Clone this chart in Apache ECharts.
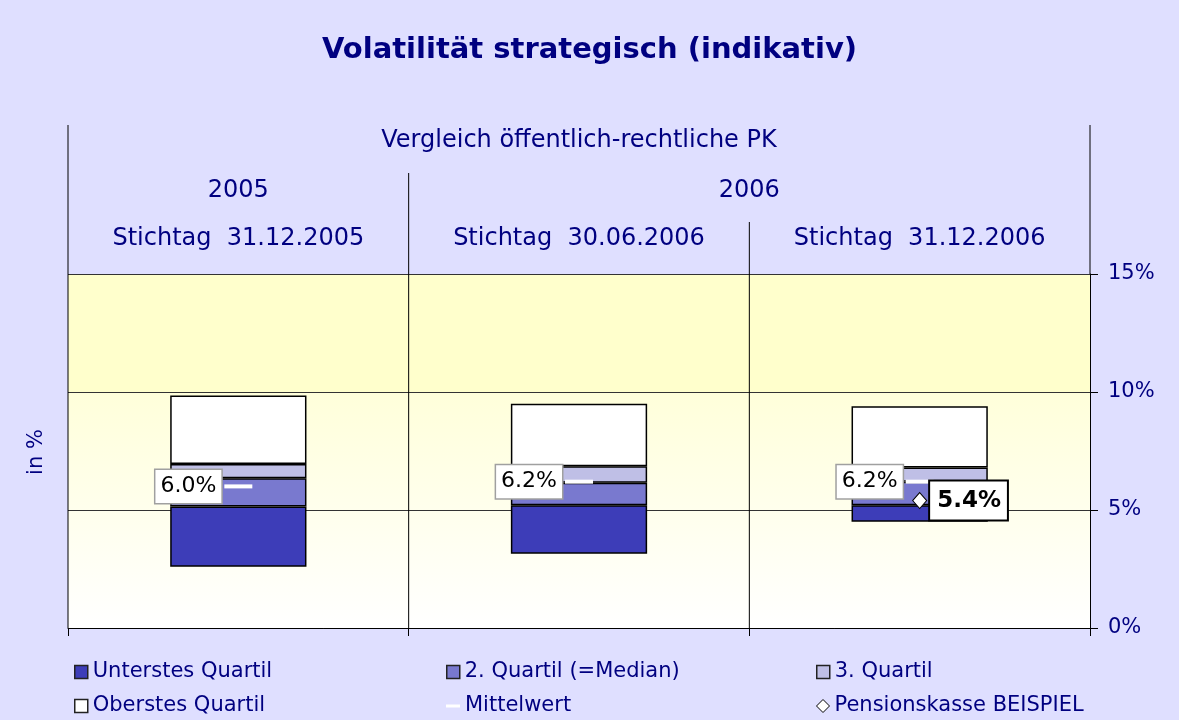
<!DOCTYPE html>
<html><head><meta charset="utf-8">
<script src="https://cdn.jsdelivr.net/npm/echarts@6/dist/echarts.min.js"></script>
<style>html,body{margin:0;padding:0;background:#DFDFFF}#c{width:1179px;height:720px}</style>
</head><body><div id="c"></div><script>
// ---- data ----
const categories = ['Stichtag  31.12.2005', 'Stichtag  30.06.2006', 'Stichtag  31.12.2006'];
const yearLabels = ['2005', '2006'];
const headerTitle = 'Vergleich öffentlich-rechtliche PK';
const lowest  = [2.6, 3.15, 4.5];   // bottom of lowest quartile
const q1      = [5.15, 5.2, 5.2];   // top of lowest quartile
const median  = [6.35, 6.15, 6.2];  // top of 2nd quartile
const q3      = [6.95, 6.85, 6.8];  // top of 3rd quartile
const highest = [9.85, 9.5, 9.4];   // top of highest quartile
const meanVal = [6.0, 6.2, 6.2];
const pkVal   = [null, null, 5.4];
const yTicks  = [0, 5, 10, 15];
const seriesNames = ['Unterstes Quartil', '2. Quartil (=Median)', '3. Quartil', 'Oberstes Quartil', 'Mittelwert', 'Pensionskasse BEISPIEL'];

const NAVY = '#000080';
const FONT = 'DejaVu Sans';
const colQ1 = '#3D3DB8', colQ2 = '#7979CF', colQ3 = '#BFBFE6', colQ4 = '#FFFFFF';

const diff = (a, b) => a.map((v, i) => +(v - b[i]).toFixed(4));

const chart = echarts.init(document.getElementById('c'), null, {renderer: 'canvas'});

const barStyle = c => ({color: c, borderColor: '#000', borderWidth: 1.5});

const legendBase = (name, left, top, extra) => Object.assign({
  selectedMode: false, left: left, top: top, padding: 0,
  itemWidth: 13, itemHeight: 13,
  textStyle: {color: NAVY, fontSize: 21, fontFamily: FONT, lineHeight: 24},
  data: [name]
}, extra || {});

const option = {
  backgroundColor: '#DFDFFF',
  animation: false,
  title: {
    text: 'Volatilität strategisch (indikativ)', left: 'center', top: 36, padding: 0,
    textStyle: {color: NAVY, fontSize: 29, fontWeight: 'bold', fontFamily: FONT}
  },
  grid: {
    left: 68, right: 89, top: 274, bottom: 92, show: true, borderWidth: 0,
    backgroundColor: new echarts.graphic.LinearGradient(0, 0, 0, 1, [
      {offset: 0, color: '#FFFFCC'}, {offset: 0.3333, color: '#FFFFCC'},
      {offset: 0.3336, color: '#FFFFDA'}, {offset: 1, color: '#FFFFFF'}
    ])
  },
  legend: [
    legendBase(seriesNames[0], 74, 660, {data: [{name: seriesNames[0], icon: 'rect', itemStyle: {color: colQ1, borderColor: '#222', borderWidth: 1.5}}]}),
    legendBase(seriesNames[3], 74, 694, {data: [{name: seriesNames[3], icon: 'rect', itemStyle: {color: colQ4, borderColor: '#222', borderWidth: 1.5}}]}),
    legendBase(seriesNames[1], 446, 660, {data: [{name: seriesNames[1], icon: 'rect', itemStyle: {color: colQ2, borderColor: '#222', borderWidth: 1.5}}]}),
    legendBase(seriesNames[4], 446, 694, {itemWidth: 14, itemHeight: 3, data: [{name: seriesNames[4], icon: 'rect', itemStyle: {color: '#FFFFFF', borderWidth: 0, opacity: 1}}]}),
    legendBase(seriesNames[2], 816, 660, {data: [{name: seriesNames[2], icon: 'rect', itemStyle: {color: colQ3, borderColor: '#222', borderWidth: 1.5}}]}),
    legendBase(seriesNames[5], 816, 694, {data: [{name: seriesNames[5], icon: 'diamond', itemStyle: {color: '#FFFFFF', borderColor: '#000', borderWidth: 1, opacity: 1}}]})
  ],
  xAxis: {
    type: 'category', data: categories,
    axisLine: {show: true, lineStyle: {color: '#000', width: 1}},
    axisTick: {show: true, length: 8, interval: 0, lineStyle: {color: '#000'}},
    axisLabel: {show: false},
    splitLine: {show: false}
  },
  yAxis: {
    type: 'value', position: 'right', min: yTicks[0], max: yTicks[yTicks.length - 1], interval: 5,
    axisLine: {show: true, lineStyle: {color: '#000', width: 1}},
    axisTick: {show: true, length: 8, lineStyle: {color: '#000'}},
    axisLabel: {formatter: '{value}%', color: NAVY, fontSize: 21, fontFamily: FONT, margin: 18},
    splitLine: {show: true, lineStyle: {color: '#333', width: 1}}
  },
  series: [
    {type: 'bar', name: 'base', stack: 'q', barWidth: '40%', data: lowest, itemStyle: {color: 'transparent', borderWidth: 0}, silent: true},
    {type: 'bar', name: seriesNames[0], stack: 'q', data: diff(q1, lowest), itemStyle: barStyle(colQ1)},
    {type: 'bar', name: seriesNames[1], stack: 'q', data: diff(median, q1), itemStyle: barStyle(colQ2)},
    {type: 'bar', name: seriesNames[2], stack: 'q', data: diff(q3, median), itemStyle: barStyle(colQ3)},
    {type: 'bar', name: seriesNames[3], stack: 'q', data: diff(highest, q3), itemStyle: barStyle(colQ4)},
    {
      type: 'scatter', name: seriesNames[4], data: meanVal, symbol: 'rect', symbolSize: [28, 4], z: 5,
      itemStyle: {color: '#FFFFFF', opacity: 1},
      label: {
        show: true, position: 'left', distance: 3, formatter: p => p.value.toFixed(1) + '%',
        color: '#000', fontSize: 22, fontFamily: FONT, backgroundColor: '#FFFFFF',
        borderColor: '#A0A0A0', borderWidth: 1.5, padding: [6, 5, 5, 5]
      }
    },
    {
      type: 'scatter', name: seriesNames[5], data: pkVal, symbol: 'diamond', symbolSize: [14, 16], z: 6,
      itemStyle: {color: '#FFFFFF', borderColor: '#000', borderWidth: 1, opacity: 1},
      label: {
        show: true, position: 'right', distance: 3, formatter: p => p.value.toFixed(1) + '%',
        color: '#000', fontSize: 23, fontWeight: 'bold', fontFamily: FONT, backgroundColor: '#FFFFFF',
        borderColor: '#000', borderWidth: 2, padding: [8, 6, 7, 7]
      }
    }
  ]
};
chart.setOption(option);

// header texts and divider lines, positioned via the axes
const cx = i => chart.convertToPixel({xAxisIndex: 0}, categories[i]);
const band = cx(1) - cx(0);
const b = i => cx(0) - band / 2 + i * band; // boundary i
const yTop = chart.convertToPixel({yAxisIndex: 0}, yTicks[yTicks.length - 1]);
const yBot = chart.convertToPixel({yAxisIndex: 0}, yTicks[0]);
const ln = (x, y1, y2) => ({type: 'line', z: 10, shape: {x1: x, y1: y1, x2: x, y2: y2}, style: {stroke: '#000', lineWidth: 1}});
const tx = (t, x, y, size) => ({type: 'text', z: 10, x: x, y: y, style: {text: t, fill: NAVY, font: (size || 24) + 'px "' + FONT + '"', align: 'center', verticalAlign: 'middle'}});
chart.setOption({
  graphic: [
    ln(b(0), 125, yBot), ln(b(3), 125, yTop),
    ln(b(1), 173, yBot), ln(b(2), 222, yBot),
    tx(headerTitle, (b(0) + b(3)) / 2, 141),
    tx(yearLabels[0], cx(0), 191),
    tx(yearLabels[1], b(2), 191),
    tx(categories[0], cx(0), 239), tx(categories[1], cx(1), 239), tx(categories[2], cx(2), 239),
    {type: 'text', z: 10, x: 37, y: 452, rotation: Math.PI / 2, style: {text: 'in %', fill: NAVY, font: '21px "' + FONT + '"', align: 'center', verticalAlign: 'middle'}}
  ]
});
</script></body></html>
